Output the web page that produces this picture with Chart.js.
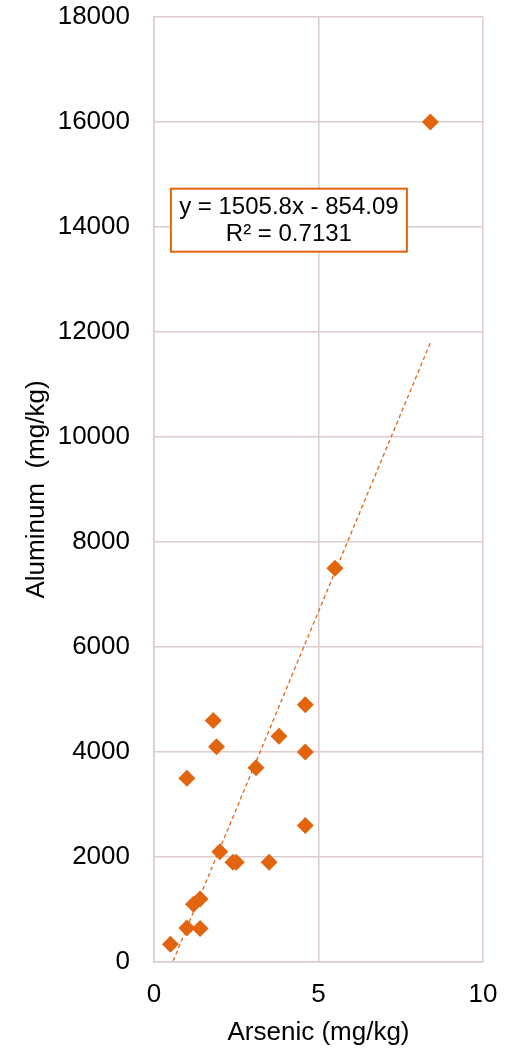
<!DOCTYPE html>
<html>
<head>
<meta charset="utf-8">
<script src="https://cdn.jsdelivr.net/npm/chart.js@4/dist/chart.umd.min.js"></script>
<style>
  html, body { margin: 0; padding: 0; background: #fff; }
  #wrap { width: 510px; height: 1050px; }
</style>
</head>
<body>
<div id="wrap"><canvas id="scatter"></canvas></div>
<script>
// arsenic vs aluminum
var arsenic  = [0.5, 1.0, 1.4, 1.2, 1.4, 2.0, 2.4, 2.5, 3.5, 1.0, 1.9, 1.8, 3.1, 3.8, 4.6, 4.6, 4.6, 5.5, 8.4];
var aluminum = [340, 650, 640, 1100, 1200, 2100, 1900, 1900, 1900, 3500, 4100, 4600, 3700, 4300, 4900, 4000, 2600, 7500, 16000];

// linear trendline from the chart
var slope = 1505.8;
var intercept = -854.09;
var rSquared = 0.7131;
var trendX = [0.5, 8.4];

var eqLines = ['y = 1505.8x - 854.09', 'R\u00b2 = 0.7131'];
var eqAnchor = { x: 4.1, y: 14130 };

var orange = '#E3640F';
var gridColor = '#dcCCCC';
var fontFamily = '"Liberation Sans", Arial, sans-serif';

var points = arsenic.map(function(a, i) { return { x: a, y: aluminum[i] }; });
var trend = trendX.map(function(x) { return { x: x, y: slope * x + intercept }; });

// box with the equation, placed through the scales
var equationBox = {
    id: 'equationBox',
    afterDatasetsDraw: function(chart) {
        var ctx = chart.ctx;
        var cx = chart.scales.x.getPixelForValue(eqAnchor.x);
        var cy = chart.scales.y.getPixelForValue(eqAnchor.y);
        var w = 236, h = 63;
        ctx.save();
        ctx.fillStyle = '#fff';
        ctx.fillRect(cx - w / 2, cy - h / 2, w, h);
        ctx.strokeStyle = orange;
        ctx.lineWidth = 2;
        ctx.strokeRect(cx - w / 2, cy - h / 2, w, h);
        ctx.fillStyle = '#000';
        ctx.font = '24px ' + fontFamily;
        ctx.textAlign = 'center';
        ctx.textBaseline = 'middle';
        ctx.fillText(eqLines[0], cx, cy - 13);
        ctx.fillText(eqLines[1], cx, cy + 14);
        ctx.restore();
    }
};

var ctx = document.getElementById('scatter').getContext('2d');
new Chart(ctx, {
    type: 'scatter',
    data: {
        datasets: [{
            label: 'Aluminum',
            data: points,
            pointStyle: 'rectRot',
            pointRadius: 8.5,
            pointHoverRadius: 8.5,
            backgroundColor: orange,
            borderColor: orange,
            borderWidth: 0
        }, {
            label: 'Linear',
            type: 'line',
            data: trend,
            showLine: true,
            pointRadius: 0,
            borderColor: orange,
            borderWidth: 1.3,
            borderDash: [4, 3],
            fill: false
        }]
    },
    options: {
        responsive: true,
        maintainAspectRatio: false,
        animation: false,
        layout: { padding: { left: 0, right: 27, top: 17, bottom: 0 } },
        plugins: {
            legend: { display: false },
            tooltip: { enabled: false }
        },
        scales: {
            x: {
                type: 'linear',
                min: 0,
                max: 10,
                afterFit: function(scale) {
                    scale.height = 88;
                    scale.paddingLeft = 0;
                    scale.paddingRight = 0;
                },
                ticks: {
                    stepSize: 5,
                    padding: 17,
                    color: '#000',
                    font: { family: fontFamily, size: 26 },
                    callback: function(v) { return String(v); }
                },
                grid: { color: gridColor, lineWidth: 1.5, drawTicks: false },
                border: { color: gridColor, width: 1.5 },
                title: {
                    display: true,
                    text: 'Arsenic (mg/kg)',
                    color: '#000',
                    font: { family: fontFamily, size: 26 },
                    padding: { top: 0, bottom: 2 }
                }
            },
            y: {
                min: 0,
                max: 18000,
                afterFit: function(scale) {
                    scale.width = 154;
                    scale.paddingTop = 0;
                    scale.paddingBottom = 0;
                },
                ticks: {
                    stepSize: 2000,
                    padding: 24,
                    color: '#000',
                    font: { family: fontFamily, size: 26 },
                    callback: function(v) { return String(v); }
                },
                grid: { color: gridColor, lineWidth: 1.5, drawTicks: false },
                border: { color: gridColor, width: 1.5 },
                title: {
                    display: true,
                    text: 'Aluminum  (mg/kg)',
                    color: '#000',
                    font: { family: fontFamily, size: 26 },
                    padding: { top: 21, bottom: 0 }
                }
            }
        }
    },
    plugins: [equationBox]
});
</script>
</body>
</html>
